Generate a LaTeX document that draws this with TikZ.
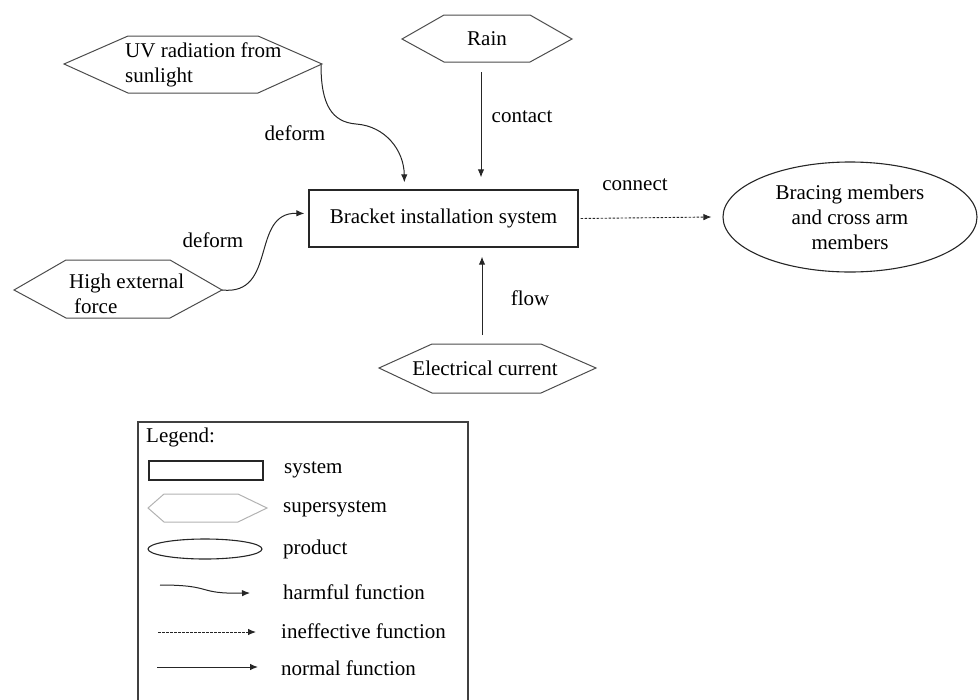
\documentclass[tikz,border=0pt]{standalone}
\usepackage{fontspec}
\setmainfont{Liberation Serif}
\usetikzlibrary{arrows.meta,calc,shapes.geometric}

\begin{document}
\begin{tikzpicture}[x=1pt,y=-1pt,
  txt/.style={font=\fontsize{21}{25}\selectfont, inner sep=0pt},
  hexline/.style={draw=black!70, line width=1pt, line join=miter},
  hexlight/.style={draw=black!30, line width=1pt},
  sysbox/.style={draw=black!85, line width=1.3pt},
  prodshape/.style={draw=black!85, line width=1.1pt, ellipse},
  tip/.style={-{Latex[length=8pt,width=6.5pt]}},
  normalfn/.style={tip, line width=1pt, draw=black!85},
  harmfn/.style={tip, line width=1pt, draw=black!85},
  ineffn/.style={tip, line width=0.9pt, draw=black!85, dash pattern=on 2.5pt off 1.5pt},
]
\useasboundingbox (0,0) rectangle (979,699);

% supersystem hexagons
\draw[hexline] (64,64) -- (128,36) -- (258,36) -- (322,64) -- (258,93) -- (128,93) -- cycle;
\draw[hexline] (402,39) -- (444,15) -- (530,15) -- (572,39) -- (530,62) -- (444,62) -- cycle;
\draw[hexline] (14,290) -- (66,260) -- (170,260) -- (222,290) -- (170,318) -- (66,318) -- cycle;
\draw[hexline] (379,368) -- (432,344) -- (541,344) -- (596,368) -- (541,393) -- (432,393) -- cycle;

\node[txt, anchor=west, align=left] (uv) at (125,65) {UV radiation from\\sunlight};
\node[txt] (rain) at (487,39) {Rain};
\node[txt, anchor=west, align=left] (force) at (69,294) {High external\\\hspace*{5pt}force};
\node[txt] (elec) at (485,368) {Electrical current};

\coordinate (uvR) at (321,65);
\coordinate (uvMid) at (356,124);
\coordinate (forceR) at (222,290);
\coordinate (rainS) at (481,72);
\coordinate (elecN) at (482,335);

% system and product
\node[txt, sysbox, minimum width=269pt, minimum height=57pt] (box) at (443.5,218.5) {Bracket installation system};
\node[txt, prodshape, minimum width=254pt, minimum height=110pt, align=center] (prod) at (850,217)
  {Bracing members\\and cross arm\\members};

% connectors
\draw[harmfn] (uvR) .. controls (321,105) and (332,122) .. (uvMid)
  .. controls (385,126) and (404,150) .. ($(box.north west)+(96,-7)$);
\draw[harmfn] (forceR) .. controls (278,296) and (250,212) .. ($(box.west)+(-4,-5)$);
\draw[normalfn] (rainS) -- ($(rainS |- box.north)+(0,-12)$);
\draw[normalfn] (elecN) -- ($(elecN |- box.south)+(0,9)$);
\draw[ineffn] ($(box.east)+(2,0)$) -- ($(prod.west)+(-11,0)$);

% function labels
\node[txt] (lblA) at (295,133) {deform};
\node[txt] (lblB) at (522,117) {contact};
\node[txt] (lblC) at (213,240) {deform};
\node[txt] (lblD) at (530,298) {flow};
\node[txt] (lblE) at (635,185) {connect};

% legend
\begin{scope}
\clip (0,0) rectangle (979,699);
\draw[draw=black!75, line width=1.2pt] (138,422) rectangle (468,730);
\end{scope}
\node[txt, anchor=west] (lgTitle) at (146,437) {Legend:};
\node[sysbox, minimum width=114pt, minimum height=19pt, inner sep=0pt] (lgSys) at (206,470.5) {};
\draw[hexlight] (148,508) -- (164,494) -- (238,494) -- (267,508) -- (238,522) -- (164,522) -- cycle;
\node[prodshape, minimum width=114pt, minimum height=20pt, inner sep=0pt] (lgProd) at (205,549) {};
\coordinate (lgH1) at (160,585);
\coordinate (lgH2) at (250,593);
\coordinate (lgD1) at (158,632);
\coordinate (lgD2) at (256,632);
\coordinate (lgN1) at (157,667);
\coordinate (lgN2) at (258,667);
\draw[harmfn] (lgH1) .. controls (215,585) and (195,594) .. (lgH2);
\draw[ineffn] (lgD1) -- (lgD2);
\draw[normalfn] (lgN1) -- (lgN2);

\node[txt, anchor=west] (lgt1) at (284,470) {system};
\node[txt, anchor=west] (lgt2) at (283,509) {supersystem};
\node[txt, anchor=west] (lgt3) at (283,549) {product};
\node[txt, anchor=west] (lgt4) at (283,592) {harmful function};
\node[txt, anchor=west] (lgt5) at (281,631) {ineffective function};
\node[txt, anchor=west] (lgt6) at (281,668) {normal function};
\end{tikzpicture}
\end{document}
